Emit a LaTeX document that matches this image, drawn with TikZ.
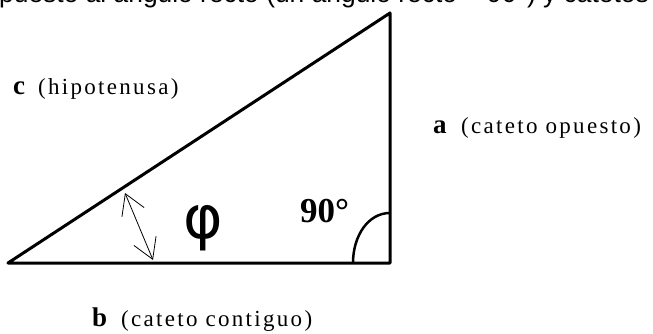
\documentclass[tikz,border=0pt]{standalone}
\usepackage{fontspec}
\setmainfont{Liberation Serif}
\newfontfamily\sansf{Liberation Sans}
\newfontfamily\phifont{DejaVu Sans}
\usetikzlibrary{arrows.meta}
\begin{document}
\begin{tikzpicture}[x=1pt,y=-1pt,
  edge/.style={line width=3pt,line cap=round,line join=round},
  boldletter/.style={anchor=base west,inner sep=0pt,font=\bfseries\fontsize{27}{30}\selectfont},
  labeltext/.style={anchor=base west,inner sep=0pt,font=\fontsize{23}{27}\selectfont\addfontfeature{LetterSpace=10}},
  angarrow/.style={line width=0.8pt,{Straight Barb[length=20pt,width=24pt]}-{Straight Barb[length=20pt,width=24pt]}}]
\useasboundingbox (0,0) rectangle (653,334);
% top text, cut by the page edge as in the reference
\node[anchor=base west,inner sep=0pt,font=\sansf\fontsize{26.4}{30}\selectfont] (top) at (-1,2.5)
  {puesto al ángulo recto (un ángulo recto = 90°) y catetos};
% triangle
\coordinate (A) at (8,263);
\coordinate (B) at (390,263);
\coordinate (C) at (390,13);
\draw[edge] (A) -- (B) -- (C) -- cycle;
% right angle mark
\coordinate (r1) at (353,263);
\coordinate (r2) at (390,213);
\draw[line width=2.5pt] (r1) .. controls (353,236) and (368,213) .. (r2);
% angle arrow
\coordinate (p1) at (125,193);
\coordinate (p2) at (153,260);
\draw[angarrow] (p1) -- (p2);
% labels
\node[anchor=base,inner sep=0pt,font=\phifont\fontsize{60}{70}\selectfont] (phi) at (203,238) {φ};
\node[anchor=base west,inner sep=0pt,font=\bfseries\fontsize{35}{40}\selectfont] (ninety) at (300,222) {90°};
\node[boldletter] (lc) at (13,95) {c};
\node[labeltext] (tc) at (38,95) {(hipotenusa)};
\node[boldletter] (la) at (433,134) {a};
\node[labeltext] (ta) at (461,134) {(cateto opuesto)};
\node[boldletter] (lb) at (92,326) {b};
\node[labeltext] (tb) at (121,326) {(cateto contiguo)};
\end{tikzpicture}
\end{document}
